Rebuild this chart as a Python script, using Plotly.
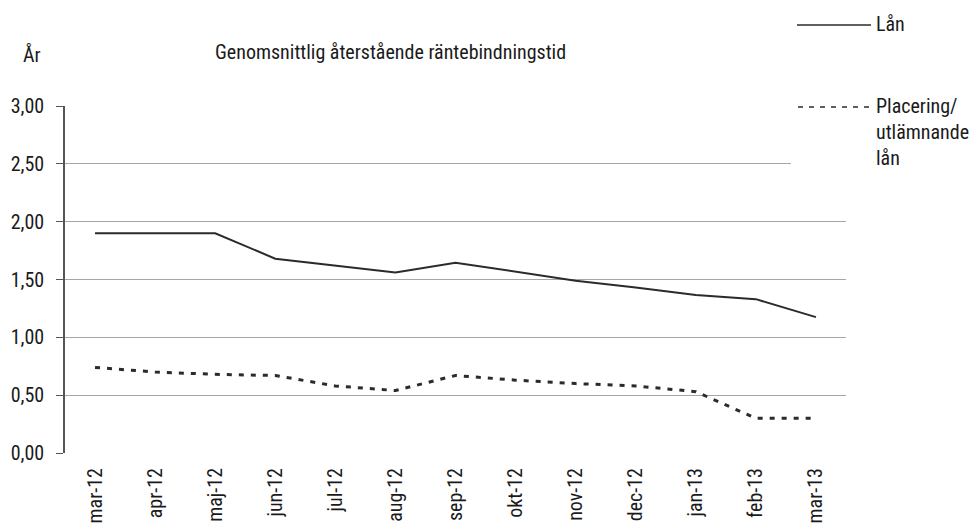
import plotly.graph_objects as go

months = ["mar-12", "apr-12", "maj-12", "jun-12", "jul-12", "aug-12", "sep-12",
          "okt-12", "nov-12", "dec-12", "jan-13", "feb-13", "mar-13"]
lan = [1.90, 1.90, 1.90, 1.68, 1.62, 1.56, 1.645, 1.57, 1.49, 1.43, 1.365, 1.33, 1.175]
placering = [0.74, 0.70, 0.68, 0.67, 0.58, 0.54, 0.67, 0.63, 0.60, 0.58, 0.53, 0.30, 0.30]
y_ticks = [0, 0.5, 1.0, 1.5, 2.0, 2.5, 3.0]
y_labels = ["0,00", "0,50", "1,00", "1,50", "2,00", "2,50", "3,00"]

FONT = "Liberation Sans Narrow, Arial Narrow, Roboto Condensed, Liberation Sans, sans-serif"
TXT = "#1a1a1a"
FS = 20

fig = go.Figure()
fig.add_trace(go.Scatter(x=months, y=lan, mode="lines", name="Lån",
                         line=dict(color="#2b2b2b", width=2), showlegend=False))
fig.add_trace(go.Scatter(x=months, y=placering, mode="lines", name="Placering/utlämnande lån",
                         line=dict(color="#2b2b2b", width=3, dash="5px,7px"), showlegend=False))

fig.update_layout(
    width=972, height=528,
    margin=dict(l=65, r=126, t=106, b=75, autoexpand=False),
    paper_bgcolor="white", plot_bgcolor="white",
    font=dict(family=FONT, size=FS, color=TXT),
    xaxis=dict(type="category", showgrid=False, zeroline=False, showline=False,
               ticks="", tickangle=-90, tickfont=dict(size=FS), range=[-0.5, 12.5],
               ticklabelstandoff=10, automargin=False),
    yaxis=dict(range=[0, 3], tickvals=y_ticks, ticktext=y_labels, showgrid=True,
               gridcolor="#a6a6a6", gridwidth=1, zeroline=False,
               showline=True, linecolor="#555555", linewidth=1.5,
               ticks="outside", ticklen=7, tickcolor="#555555", tickwidth=1,
               tickfont=dict(size=FS), ticklabelstandoff=8, automargin=False),
    shapes=[
        dict(type="rect", xref="paper", yref="paper", x0=726 / 781, x1=1.2,
             y0=(453 - 190) / 347, y1=1.3, fillcolor="white", line=dict(width=0), layer="above"),
        dict(type="line", xref="paper", yref="paper", x0=(797 - 65) / 781, x1=(871 - 65) / 781,
             y0=(453 - 25) / 347, y1=(453 - 25) / 347, line=dict(color="#2b2b2b", width=1.5),
             layer="above"),
        dict(type="line", xref="paper", yref="paper", x0=(798 - 65) / 781, x1=(869 - 65) / 781,
             y0=(453 - 107) / 347, y1=(453 - 107) / 347,
             line=dict(color="#2b2b2b", width=1.5, dash="5px,6px"), layer="above"),
    ],
    annotations=[
        dict(text="Genomsnittlig återstående räntebindningstid", xref="paper", yref="paper",
             x=(390 - 65) / 781, y=(453 - 52) / 347, showarrow=False, xanchor="center",
             yanchor="middle", font=dict(size=FS)),
        dict(text="År", xref="paper", yref="paper", x=(21 - 65) / 781, y=(453 - 55) / 347,
             showarrow=False, xanchor="left", yanchor="middle", font=dict(size=FS)),
        dict(text="Lån", xref="paper", yref="paper", x=(874 - 65) / 781, y=(453 - 24) / 347,
             showarrow=False, xanchor="left", yanchor="middle", font=dict(size=FS)),
        dict(text="Placering/<br>utlämnande<br>lån", xref="paper", yref="paper",
             x=(874 - 65) / 781, y=(453 - 92) / 347, showarrow=False, xanchor="left",
             yanchor="top", align="left", font=dict(size=FS)),
    ],
)

fig.write_html("out.html", config={"displayModeBar": False},
               post_script="document.body.style.margin='0';")
